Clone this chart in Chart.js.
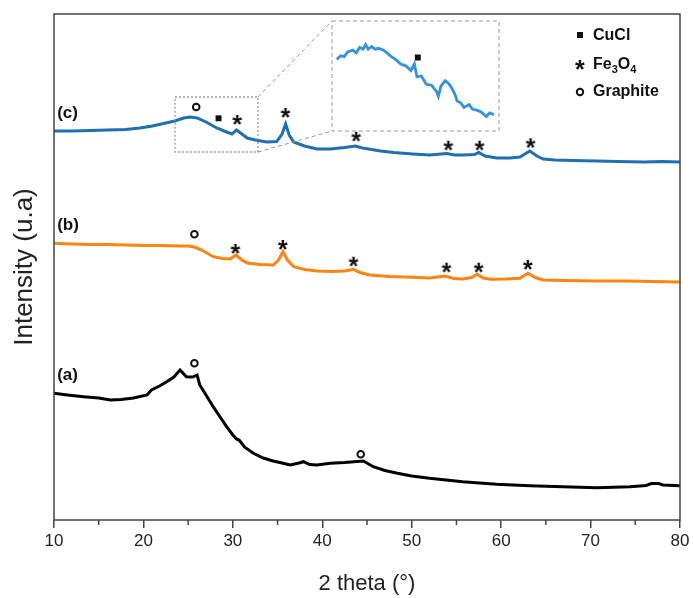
<!DOCTYPE html>
<html>
<head>
<meta charset="utf-8">
<script src="https://cdn.jsdelivr.net/npm/chart.js@4.4.1/dist/chart.umd.min.js"></script>
<style>
  body { margin: 0; background: #fff; }
  #wrap { position: relative; width: 693px; height: 598px; }
  #main { position: absolute; left: 0; top: 0; }
  #inset { position: absolute; }
</style>
</head>
<body>
<div id="wrap">
  <canvas id="main" width="693" height="598"></canvas>
  <canvas id="inset"></canvas>
</div>
<script>
// (a) black
const thetaA = [10, 11.5, 13.3, 15, 16.3, 17.5, 18.9, 20.4, 20.9, 21.8, 22.6, 23.4, 24.1, 24.8, 25.5, 26.0, 26.3, 27, 27.8, 28.5, 29.3, 30.0, 30.4, 30.7, 31.3, 32.3, 33.4, 34.5, 35.5, 36.4, 37.4, 37.9, 38.6, 39.4, 40.9, 42.5, 44.6, 45.7, 47, 48.4, 50, 52, 55.7, 59.5, 63.2, 66.9, 70.7, 74.4, 76.2, 76.8, 77.6, 78.1, 80]
const intensityA = [126.7, 125, 123.3, 122, 120, 120.5, 122, 125, 130, 134, 138.3, 143, 150, 143.3, 143, 145, 135, 125, 113.3, 104, 93.3, 85, 81, 80, 73, 66.7, 62, 59, 57, 55, 57, 58.3, 55.5, 55, 56.7, 57.5, 59, 53.3, 49.5, 46.7, 44, 41.7, 38.3, 35.7, 34.3, 33.3, 32.3, 33.3, 34.5, 36.5, 36.5, 35, 34.3]

// (b) orange
const thetaB = [10, 12, 14, 16, 18, 20, 22, 24, 25, 25.7, 26.5, 27.8, 28.8, 29.7, 30.35, 31, 31.6, 33, 34.5, 35.1, 35.6, 36.1, 36.8, 38, 39.4, 41, 42.5, 43.5, 44.2, 45.3, 47.5, 50.1, 52, 53.7, 54.7, 55.7, 56.7, 57.3, 58.0, 58.8, 60.5, 62.1, 63.0, 63.8, 64.7, 67, 70.7, 74, 77, 80]
const intensityB = [276.7, 276, 275.5, 275.5, 275, 274.5, 274.5, 274, 274, 273, 270, 263.3, 261.5, 261, 265, 260, 257, 255.5, 255, 260, 268.3, 260, 253.3, 250.5, 249, 248.5, 249, 250.7, 247.5, 245, 243.5, 242.7, 242, 244, 241.5, 241, 242.5, 245.7, 242, 240.7, 241, 241.7, 246.7, 242.5, 240, 239.5, 239, 239, 238.5, 238]

// (c) blue
const thetaC = [10, 12, 14, 16, 18, 19.6, 21, 22.5, 23.5, 24.5, 25.2, 26, 27, 28.2, 29.3, 29.9, 30.4, 31, 31.6, 32.5, 33.8, 34.9, 35.5, 35.9, 36.3, 36.8, 38, 39.4, 40.9, 42.5, 43.7, 44.5, 46.5, 48, 50.1, 52, 53.9, 54.8, 55.7, 57, 57.5, 58.2, 59.5, 61, 62.1, 63.2, 64, 64.7, 66, 68, 70.7, 73, 76, 78, 80]
const intensityC = [389, 389, 389.5, 390, 390.5, 392, 394, 397, 399, 402, 403, 402, 398, 392, 388, 386, 390, 386, 382, 380, 378, 378.5, 386, 396, 385, 378, 374, 371, 371, 372.5, 374, 372, 369, 367.5, 366, 365, 366.5, 365, 365, 365.5, 367.5, 364, 362, 362, 363, 369, 364, 361, 360, 359.5, 359, 358.5, 358, 358.5, 358]

// inset: zoom of (c) between 23.5 and 32.8 deg
const insetTheta = [23.55, 23.8, 24.0, 24.2, 24.5, 24.7, 24.9, 25.1, 25.25, 25.4, 25.6, 25.8, 26.0, 26.3, 26.5, 26.75, 27.0, 27.3, 27.6, 27.9, 28.1, 28.25, 28.5, 28.8, 29.1, 29.4, 29.5, 29.65, 29.9, 30.1, 30.25, 30.45, 30.6, 30.8, 31.0, 31.3, 31.5, 31.75, 32.0, 32.3, 32.5, 32.75]
const insetIntensity = [73, 77, 76, 81, 83, 80, 86, 84, 89, 84, 87, 84, 85, 83, 80, 76, 73, 68, 66, 61, 68, 54, 55, 46, 45, 38, 33, 44, 50, 47, 43, 36, 28, 26, 21, 24, 19, 18, 16, 11, 15, 13]

// phase markers
const graphiteTheta = [25.9, 25.7, 25.7, 44.3]
const graphiteY = [413, 285.7, 156.7, 65.7]
const cuclTheta = [28.4]
const cuclY = [401.7]
const fe3o4Theta = [30.5, 35.9, 43.8, 54.1, 57.6, 63.3, 30.3, 35.6, 43.5, 53.9, 57.5, 63.0]
const fe3o4Y = [400, 407, 383.3, 374.3, 374.3, 376.7, 271, 275, 258.3, 252.3, 252.3, 255]
const insetCuclTheta = [28.3]
const insetCuclY = [75]

// curve labels
const curveLabels = ['(c)', '(b)', '(a)']
const curveLabelY = [407, 294.5, 145]

// zoom window (data coords) and inset box (px)
const zoomTheta = [23.53, 32.8]
const zoomY = [368, 423]
const insetBox = { left: 332, top: 21, width: 167, height: 110 }

const zip = (xs, ys) => xs.map((x, i) => ({ x: x, y: ys[i] }))

const FONT = '"Liberation Sans", Arial, sans-serif'

const makeStar = (size) => {
  const c = document.createElement('canvas')
  c.width = c.height = size
  const ctx = c.getContext('2d')
  ctx.font = 'bold 25px ' + FONT
  const m = ctx.measureText('*')
  const w = m.actualBoundingBoxRight + m.actualBoundingBoxLeft
  const h = m.actualBoundingBoxAscent + m.actualBoundingBoxDescent
  ctx.fillStyle = '#111'
  ctx.fillText('*', (size - w) / 2 + m.actualBoundingBoxLeft, (size - h) / 2 + m.actualBoundingBoxAscent)
  return c
}
const star = makeStar(14)

const decorations = {
  id: 'decorations',
  beforeDraw (chart) {
    const ctx = chart.ctx
    ctx.save()
    ctx.fillStyle = '#fff'
    ctx.fillRect(0, 0, chart.width, chart.height)
    ctx.restore()
  },
  afterDraw (chart) {
    const ctx = chart.ctx
    const xs = chart.scales.x
    const ys = chart.scales.y
    const area = chart.chartArea
    ctx.save()

    // frame
    ctx.strokeStyle = '#444'
    ctx.lineWidth = 1.5
    ctx.strokeRect(area.left, area.top, area.right - area.left, area.bottom - area.top)

    // minor ticks
    ctx.beginPath()
    for (let v = 15; v < 80; v += 10) {
      const px = xs.getPixelForValue(v)
      ctx.moveTo(px, area.bottom)
      ctx.lineTo(px, area.bottom + 5)
    }
    ctx.stroke()

    // zoom window + connectors + inset frame
    const zx0 = xs.getPixelForValue(zoomTheta[0])
    const zx1 = xs.getPixelForValue(zoomTheta[1])
    const zy0 = ys.getPixelForValue(zoomY[1])
    const zy1 = ys.getPixelForValue(zoomY[0])
    ctx.strokeStyle = '#9a9a9a'
    ctx.lineWidth = 1.3
    ctx.setLineDash([2, 2])
    ctx.strokeRect(zx0, zy0, zx1 - zx0, zy1 - zy0)
    ctx.setLineDash([4, 3])
    ctx.lineWidth = 1
    ctx.beginPath()
    ctx.moveTo(zx1, zy0)
    ctx.lineTo(insetBox.left, insetBox.top)
    ctx.moveTo(zx1, zy1)
    ctx.lineTo(insetBox.left, insetBox.top + insetBox.height)
    ctx.stroke()
    ctx.strokeRect(insetBox.left, insetBox.top, insetBox.width, insetBox.height)
    ctx.setLineDash([])

    // curve labels
    ctx.fillStyle = '#111'
    ctx.font = 'bold 17px ' + FONT
    ctx.textAlign = 'left'
    ctx.textBaseline = 'middle'
    curveLabels.forEach((t, i) => {
      ctx.fillText(t, xs.getPixelForValue(10.35), ys.getPixelForValue(curveLabelY[i]))
    })

    // legend
    const lx = area.right - 100
    const tx = area.right - 87
    ctx.font = 'bold 16px ' + FONT
    ctx.fillRect(lx - 3, area.top + 18, 6, 6)
    ctx.fillText('CuCl', tx, area.top + 22)
    ctx.drawImage(star, lx - 7, area.top + 44)
    ctx.fillText('Fe', tx, area.top + 51)
    let w = ctx.measureText('Fe').width
    ctx.font = 'bold 11px ' + FONT
    ctx.fillText('3', tx + w, area.top + 56)
    w += ctx.measureText('3').width
    ctx.font = 'bold 16px ' + FONT
    ctx.fillText('O', tx + w, area.top + 51)
    w += ctx.measureText('O').width
    ctx.font = 'bold 11px ' + FONT
    ctx.fillText('4', tx + w, area.top + 56)
    ctx.font = 'bold 16px ' + FONT
    ctx.beginPath()
    ctx.lineWidth = 2
    ctx.strokeStyle = '#111'
    ctx.arc(lx, area.top + 78, 3.2, 0, Math.PI * 2)
    ctx.stroke()
    ctx.fillText('Graphite', tx, area.top + 78)
    ctx.restore()
  }
}

const markerSets = [
  { data: zip(graphiteTheta, graphiteY), pointStyle: 'circle', pointRadius: 3.3, pointBorderWidth: 2, pointBackgroundColor: '#fff', pointBorderColor: '#111' },
  { data: zip(cuclTheta, cuclY), pointStyle: 'rect', pointRadius: 4.2, pointBorderWidth: 0, pointBackgroundColor: '#111', pointBorderColor: '#111' },
  { data: zip(fe3o4Theta, fe3o4Y), pointStyle: star, pointRadius: 7 }
].map(d => Object.assign({ showLine: false, order: 0 }, d))

const lineStyle = { pointRadius: 0, borderWidth: 3, tension: 0, order: 1 }

const mainChart = new Chart(document.getElementById('main'), {
  type: 'line',
  data: {
    datasets: markerSets.concat([
      Object.assign({ label: '(c)', data: zip(thetaC, intensityC), borderColor: '#1f70b0' }, lineStyle),
      Object.assign({ label: '(b)', data: zip(thetaB, intensityB), borderColor: '#ff8412' }, lineStyle),
      Object.assign({ label: '(a)', data: zip(thetaA, intensityA), borderColor: '#000' }, lineStyle)
    ])
  },
  options: {
    responsive: false,
    animation: false,
    devicePixelRatio: 1,
    layout: { padding: { top: 14, right: 13, left: 0, bottom: 0 } },
    plugins: { legend: { display: false }, tooltip: { enabled: false } },
    scales: {
      x: {
        type: 'linear',
        min: 10,
        max: 80,
        afterFit: (s) => { s.height = 78 },
        ticks: { stepSize: 10, color: '#222', font: { family: FONT, size: 17 }, padding: 3, maxRotation: 0 },
        grid: { drawOnChartArea: false, tickLength: 8, color: '#444', lineWidth: 1.5 },
        border: { display: false },
        title: { display: true, text: '2 theta (°)', color: '#222', font: { family: FONT, size: 22 }, padding: { top: 0, bottom: 1 } }
      },
      y: {
        min: 0,
        max: 506,
        afterFit: (s) => { s.width = 54 },
        ticks: { display: false },
        grid: { display: false },
        border: { display: false },
        title: { display: true, text: 'Intensity (u.a)', color: '#222', font: { family: FONT, size: 26 }, padding: { top: 9, bottom: 0 } }
      }
    }
  },
  plugins: [decorations]
})

const insetCanvas = document.getElementById('inset')
insetCanvas.width = insetBox.width
insetCanvas.height = insetBox.height
insetCanvas.style.left = insetBox.left + 'px'
insetCanvas.style.top = insetBox.top + 'px'

const insetChart = new Chart(insetCanvas, {
  type: 'line',
  data: {
    datasets: [
      { data: zip(insetCuclTheta, insetCuclY), showLine: false, pointStyle: 'rect', pointRadius: 4.2, pointBackgroundColor: '#111', pointBorderWidth: 0, order: 0 },
      { data: zip(insetTheta, insetIntensity), borderColor: '#3393e3', borderWidth: 2.8, pointRadius: 0, tension: 0, order: 1 }
    ]
  },
  options: {
    responsive: false,
    animation: false,
    devicePixelRatio: 1,
    layout: { padding: 0 },
    plugins: { legend: { display: false }, tooltip: { enabled: false } },
    scales: {
      x: { type: 'linear', min: zoomTheta[0], max: zoomTheta[1], display: false },
      y: { min: 0, max: 110, display: false }
    }
  }
})
</script>
</body>
</html>
